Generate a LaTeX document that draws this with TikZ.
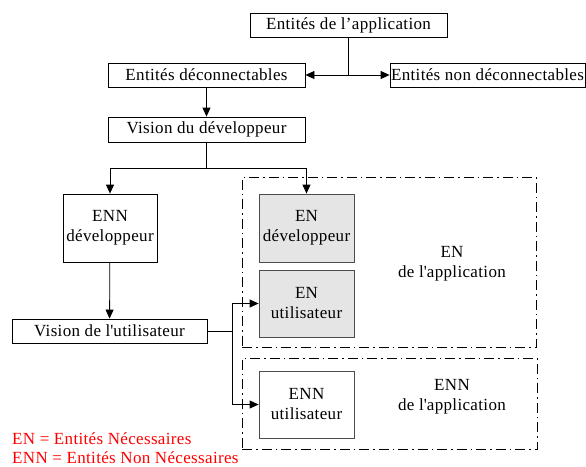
\documentclass[tikz,border=0pt]{standalone}
\usepackage{fontspec}
\setmainfont{Liberation Serif}[LetterSpace=2]
\usetikzlibrary{arrows.meta}
\begin{document}
\begin{tikzpicture}[x=1pt,y=-1pt,
  font=\fontsize{17}{20}\selectfont,
  box/.style={draw=black,line width=0.8pt,rectangle,inner sep=0pt,align=center},
  gbox/.style={box,draw=black!70,fill=black!10},
  wbox/.style={box,draw=black!70},
  grp/.style={draw=black,line width=0.8pt,rectangle,inner sep=0pt,dash pattern=on 10pt off 4pt on 1.5pt off 4pt},
  lbl/.style={align=center,inner sep=0pt},
  line/.style={draw=black,line width=0.8pt},
  arr/.style={line,-{Triangle[length=9pt,width=8pt]}},
  legend/.style={text=red,anchor=west,inner sep=0pt}]
\useasboundingbox (0,0) rectangle (586,466);
% containers
\node[grp,minimum width=294pt,minimum height=170pt] (g1) at (389,262) {};
\node[grp,minimum width=295pt,minimum height=91pt] (g2) at (389.5,403.5) {};
\node[lbl] (g1l) at (452,264) {EN\\de l\textquotesingle application};
\node[lbl] (g2l) at (452,397) {ENN\\de l\textquotesingle application};
% boxes
\node[box,minimum width=197pt,minimum height=24pt] (top) at (348.5,25) {Entités de l’application};
\node[box,minimum width=197pt,minimum height=24pt] (dec) at (206.5,75) {Entités déconnectables};
\node[box,minimum width=195pt,minimum height=24pt] (ndec) at (487.5,75) {Entités non déconnectables};
\node[box,minimum width=197pt,minimum height=25pt] (visdev) at (206.5,129.5) {Vision du développeur};
\node[box,minimum width=94pt,minimum height=68pt] (ennd) at (110,228) {ENN\\développeur};
\node[box,minimum width=195pt,minimum height=24pt] (visu) at (109.5,331) {Vision de l\textquotesingle utilisateur};
\node[gbox,minimum width=95pt,minimum height=68pt] (end) at (306.5,228) {EN\\développeur};
\node[gbox,minimum width=95pt,minimum height=67pt] (enu) at (306.5,303.5) {EN\\utilisateur};
\node[wbox,minimum width=95pt,minimum height=67pt] (ennu) at (306.5,404.5) {ENN\\utilisateur};
% connectors
\draw[arr] (top.south) |- (dec.east);
\draw[arr] (top.south) |- (ndec.west);
\draw[arr] (dec) -- (visdev);
\coordinate (br) at (206.5,168);
\draw[line] (visdev.south) -- (br);
\draw[arr] (br) -| (ennd.north);
\draw[arr] (br) -| (end.north);
\draw[arr] (ennd) -- (visu);
\coordinate (sp) at (232,331);
\draw[line] (visu.east) -- (sp);
\draw[arr] (sp) |- (enu.west);
\draw[arr] (sp) |- (ennu.west);
% legend
\node[legend] (l1) at (12,438.5) {EN = Entités Nécessaires};
\node[legend] (l2) at (12,457.5) {ENN = Entités Non Nécessaires};
\end{tikzpicture}
\end{document}
